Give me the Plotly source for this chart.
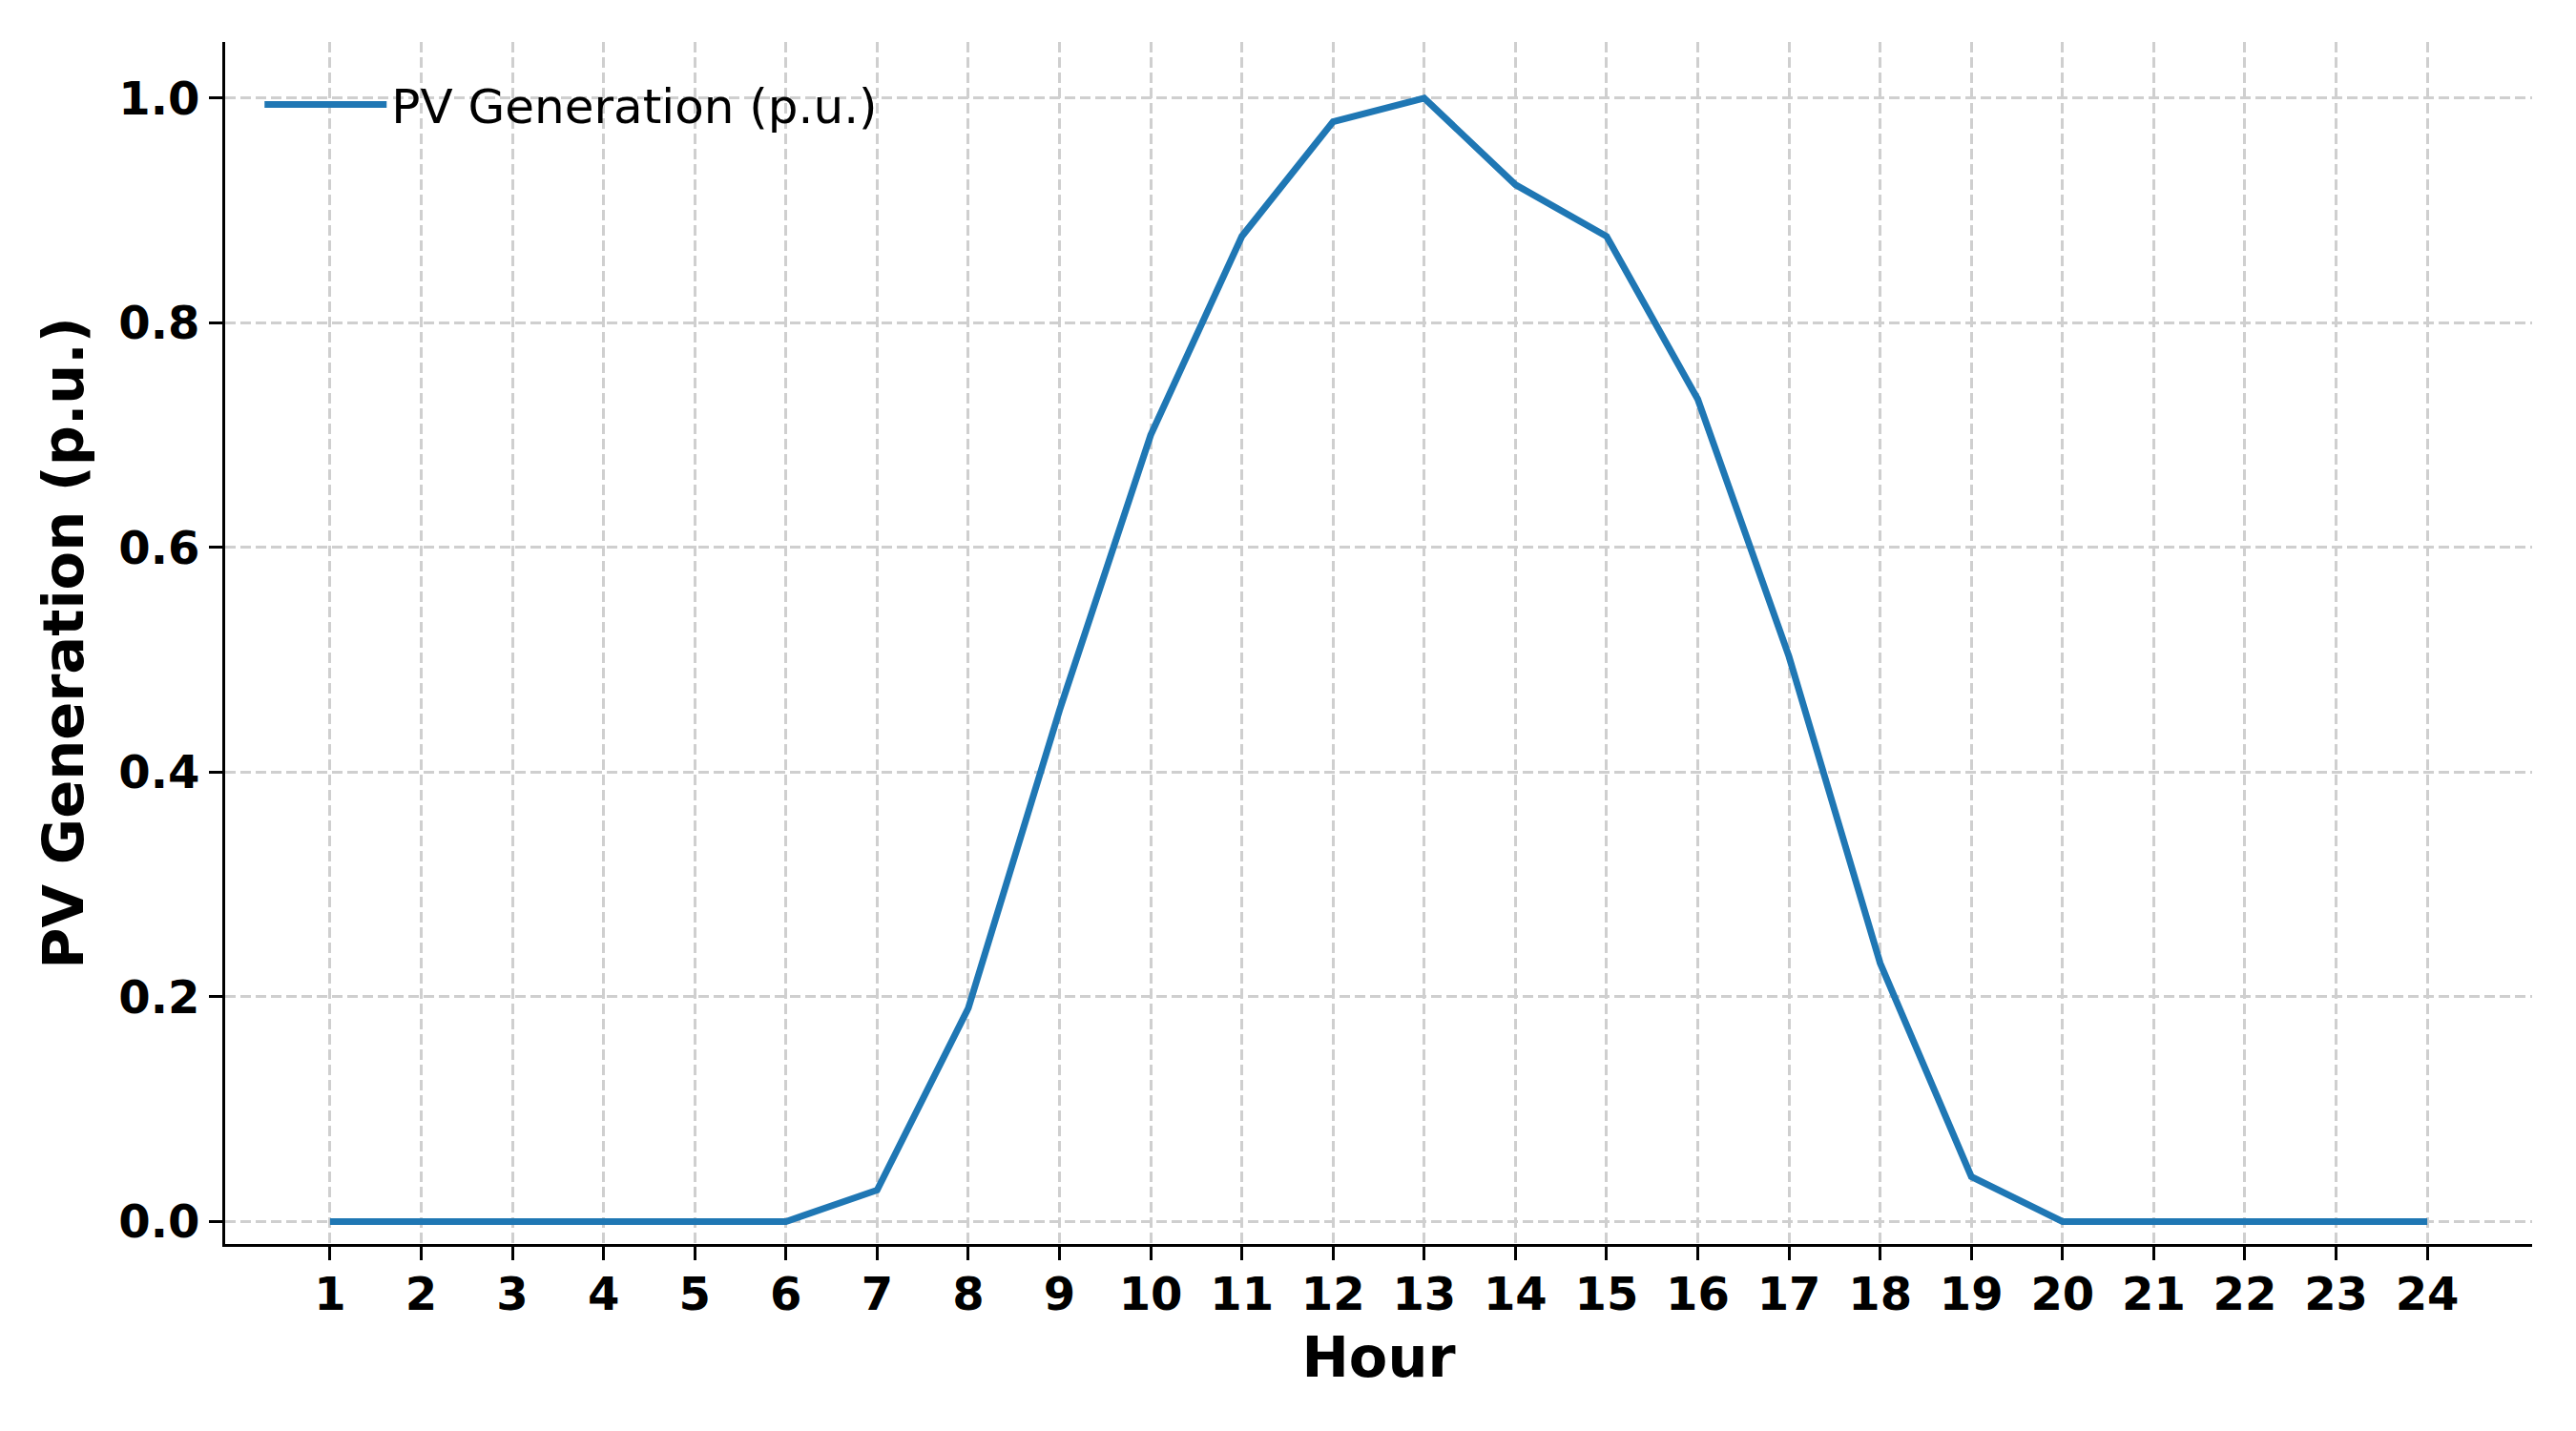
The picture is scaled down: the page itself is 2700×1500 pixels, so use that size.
import plotly.graph_objects as go

hours = list(range(1, 25))
pv_generation = [0.0, 0.0, 0.0, 0.0, 0.0, 0.0, 0.028, 0.19, 0.455, 0.70,
                 0.877, 0.979, 1.0, 0.923, 0.877, 0.732, 0.503, 0.23,
                 0.04, 0.0, 0.0, 0.0, 0.0, 0.0]
series_name = "PV Generation (p.u.)"
x_tick_labels = [str(h) for h in hours]
y_tick_values = [0.0, 0.2, 0.4, 0.6, 0.8, 1.0]
y_tick_labels = ["0.0", "0.2", "0.4", "0.6", "0.8", "1.0"]

FONT = "DejaVu Sans"
GRID = "#cfcfcf"

fig = go.Figure()
fig.add_trace(go.Scatter(
    x=hours, y=pv_generation, mode="lines", name=series_name,
    line=dict(color="#1f77b4", width=7),
))

fig.update_layout(
    width=2700, height=1500,
    margin=dict(l=228, r=54, t=36, b=204, autoexpand=False),
    paper_bgcolor="white", plot_bgcolor="white",
    font=dict(family=FONT, color="black"),
    showlegend=True,
    legend=dict(
        x=0.015, y=0.979, xanchor="left", yanchor="top",
        bgcolor="rgba(0,0,0,0)", borderwidth=0,
        font=dict(family=FONT, size=50, color="black"),
        itemwidth=128,
    ),
)

fig.update_xaxes(
    range=[-0.15, 25.15],
    tickmode="array", tickvals=hours, ticktext=x_tick_labels,
    tickfont=dict(family=FONT, size=48, color="black", weight="bold"),
    ticks="outside", ticklen=14, tickwidth=3, tickcolor="black",
    ticklabelstandoff=-6,
    showline=True, linecolor="black", linewidth=3, mirror=False,
    showgrid=True, gridcolor=GRID, gridwidth=3, griddash="11px,5px",
    zeroline=False,
    title=dict(text="Hour", font=dict(family=FONT, size=59, color="black", weight="bold"), standoff=20),
    automargin=False,
)
fig.update_yaxes(
    range=[-0.02, 1.05],
    tickmode="array", tickvals=y_tick_values, ticktext=y_tick_labels,
    tickfont=dict(family=FONT, size=48, color="black", weight="bold"),
    ticks="outside", ticklen=14, tickwidth=3, tickcolor="black",
    showline=True, linecolor="black", linewidth=3, mirror=False,
    showgrid=True, gridcolor=GRID, gridwidth=3, griddash="11px,5px",
    zeroline=False,
    title=dict(text="PV Generation (p.u.)", font=dict(family=FONT, size=59, color="black", weight="bold"), standoff=18),
    automargin=False,
)

fig.write_html("out.html")
